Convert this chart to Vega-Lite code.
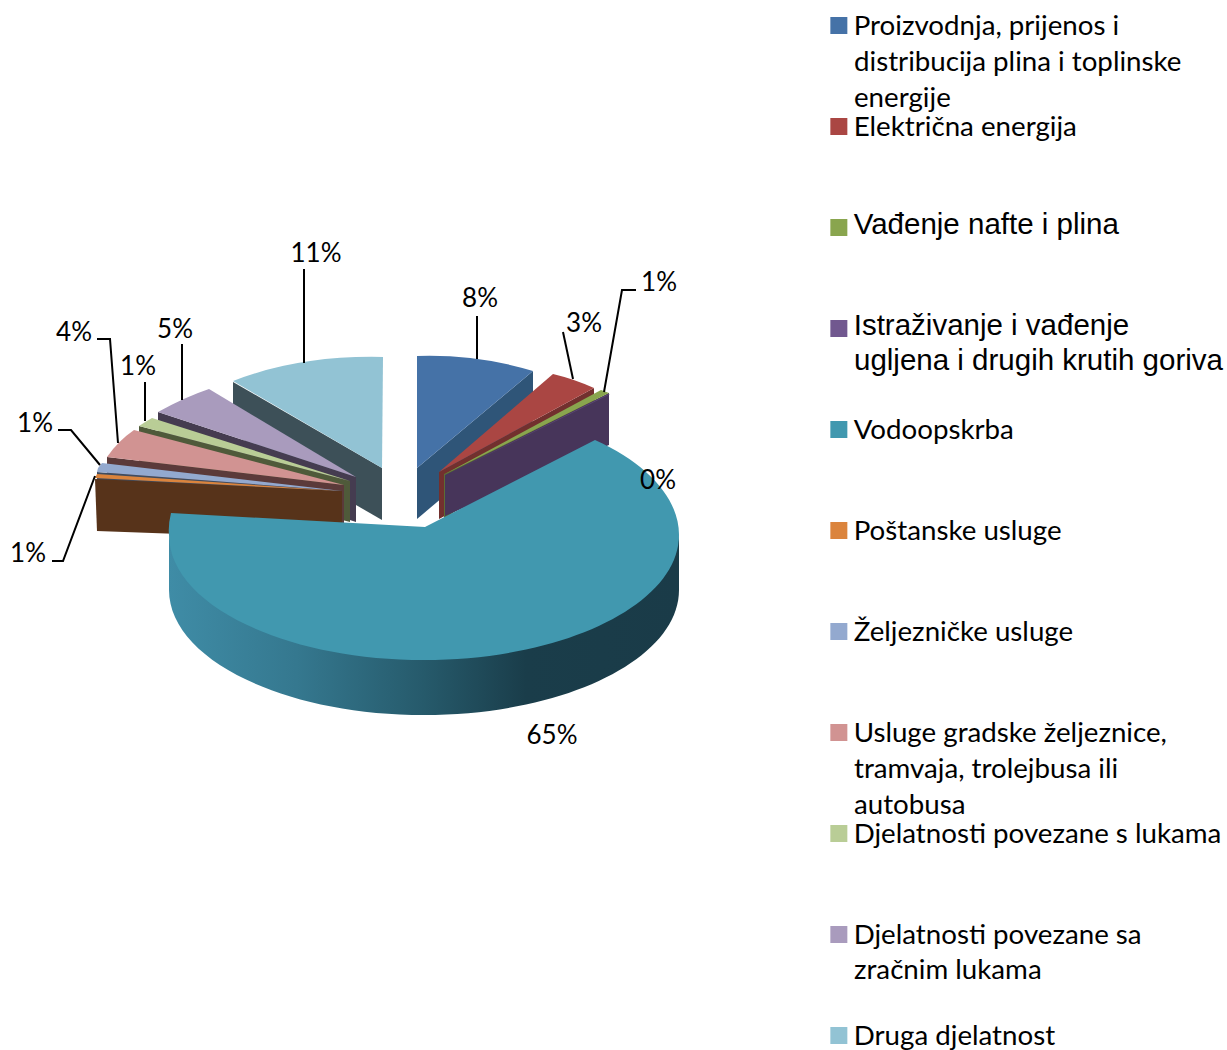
{
"$schema":"https://vega.github.io/schema/vega-lite/v6.json",
"description":"Tilted exploded pie. Shares and names are read from the reference; Vega-Lite has no elliptical arc, so slice, side-face and leader outlines are hand-traced SVG paths held in shape-scale ranges, not computed from the share values.",
"width":1226,"height":1050,"padding":0,"autosize":{"type":"none"},"background":"white",
"config":{"view":{"stroke":null}},
"data":{"values":[
{"name":"Druga djelatnost","share":0.11,"slice":11},
{"name":"Djelatnosti povezane sa zračnim lukama","share":0.05,"slice":10},
{"name":"Djelatnosti povezane s lukama","share":0.01,"slice":9},
{"name":"Usluge gradske željeznice, tramvaja, trolejbusa ili autobusa","share":0.04,"slice":8},
{"name":"Željezničke usluge","share":0.01,"slice":7},
{"name":"Poštanske usluge","share":0.01,"slice":6},
{"name":"Proizvodnja, prijenos i distribucija plina i toplinske energije","share":0.08,"slice":1},
{"name":"Električna energija","share":0.03,"slice":2},
{"name":"Vađenje nafte i plina","share":0.01,"slice":3},
{"name":"Istraživanje i vađenje ugljena i drugih krutih goriva","share":0.0,"slice":4},
{"name":"Vodoopskrba","share":0.65,"slice":5}
]},
"resolve":{"scale":{"shape":"independent","color":"independent","x":"independent","y":"independent"}},
"layer":[
{"transform":[{"filter":"datum.slice != 5"}],
 "mark":{"type":"point","filled":true,"opacity":1,"size":4},
 "encoding":{
 "shape":{"field":"slice","type":"nominal","legend":null,"scale":{"domain":[1,2,3,4,6,7,8,9,10,11],
 "range":["M-196,-57L-80,-154L-80,-104L-196,-6Z","M-174,-53L-19,-137L-19,-90L-174,-6Z","M-169,-51L-4,-132L-4,-120L-169,-6Z","M-168,-50L-4,-132L-4,-80L-168,-9Z","M-518,-46L-271,-34L-271,15L-516,6Z","M-516,-53L-271,-34L-271,10L-516,-9Z","M-506,-68L-269,-40L-269,8L-506,-20Z","M-474,-99L-263,-44L-263,-3L-474,-58Z","M-455,-113L-257,-48L-257,-3L-455,-68Z","M-380,-143L-231,-57L-231,-5L-380,-91Z"]}},
 "color":{"field":"slice","type":"nominal","legend":null,"scale":{"domain":[1,2,3,4,6,7,8,9,10,11],
 "range":["#2f5578","#72302e","#5c6e34","#47355a","#57331a","#3f4c5f","#5b3a3a","#4f5a3a","#453c50","#3d5058"]}}
 }},
{"transform":[{"filter":"datum.slice == 5"}],
 "mark":{"type":"point","filled":true,"opacity":1,"size":4,"fill":{"gradient":"linear","x1":0,"y1":0,"x2":1,"y2":0,"stops":[{"offset":0,"color":"#3f8ca6"},{"offset":0.25,"color":"#35788f"},{"offset":0.5,"color":"#265a6b"},{"offset":0.7,"color":"#1a3d4a"},{"offset":1,"color":"#1a3b48"}]}},
 "encoding":{"shape":{"field":"slice","type":"nominal","legend":null,"scale":{"domain":[5],"range":["M66,5A255,125,0,0,1,-444,5L-444,65A255,125,0,0,0,66,65Z"]}}}},
{"mark":{"type":"point","filled":true,"opacity":1,"size":4},
 "encoding":{
 "shape":{"field":"slice","type":"nominal","legend":null,"scale":{"domain":[1,2,3,4,5,6,7,8,9,10,11],
 "range":["M-196,-169Q-136,-171,-80,-154L-196,-57Z","M-174,-53L-60,-151Q-39,-146,-19,-137Z","M-168,-51L-12,-135L-4,-132Z","M-168,-49L-4,-131L-3,-131Z","M-188,2L-18,-85A255,128,0,0,1,66,10A255,125,0,0,1,-444,10Q-445,0,-442,-12Z","M-516,-51L-518,-47L-272,-34Z","M-511,-62L-515,-57L-516,-53L-271,-34Z","M-506,-68Q-495,-84,-479,-95L-269,-40Z","M-474,-99Q-468,-103,-461,-107L-263,-44Z","M-455,-113Q-428,-128,-404,-136L-257,-48Z","M-230,-168Q-313,-170,-380,-144L-231,-57Z"]}},
 "color":{"field":"name","type":"nominal","title":null,"scale":{"domain":["Proizvodnja, prijenos i distribucija plina i toplinske energije","Električna energija","Vađenje nafte i plina","Istraživanje i vađenje ugljena i drugih krutih goriva","Vodoopskrba","Poštanske usluge","Željezničke usluge","Usluge gradske željeznice, tramvaja, trolejbusa ili autobusa","Djelatnosti povezane s lukama","Djelatnosti povezane sa zračnim lukama","Druga djelatnost"],
 "range":["#4572a7","#aa4643","#89a54e","#71588f","#4198af","#db843d","#93a9cf","#d19392","#b9cd96","#a99bbd","#92c3d4"]},
 "legend":{"orient":"none","legendX":825,"legendY":-25,"symbolType":"square","symbolSize":289,"symbolStrokeWidth":0,"symbolOpacity":1,"clipHeight":101,"rowPadding":0,"columns":1,"labelLimit":400,"labelFont":"Lato","labelFontSize":27.7,"labelColor":"#000","labelOffset":1,"labelBaseline":"alphabetic",
 "labelExpr":"datum.label=='Proizvodnja, prijenos i distribucija plina i toplinske energije'?'Proizvodnja, prijenos i':datum.label=='Istraživanje i vađenje ugljena i drugih krutih goriva'?'Istraživanje i vađenje':datum.label=='Usluge gradske željeznice, tramvaja, trolejbusa ili autobusa'?'Usluge gradske željeznice,':datum.label=='Djelatnosti povezane sa zračnim lukama'?'Djelatnosti povezane sa':datum.label",
 "encoding":{"labels":{
 "dy":{"value":{"expr":"datum.value=='Vađenje nafte i plina'||datum.value=='Istraživanje i vađenje ugljena i drugih krutih goriva'?6:9"}},
 "font":{"value":{"expr":"datum.value=='Vađenje nafte i plina'||datum.value=='Istraživanje i vađenje ugljena i drugih krutih goriva'?'Liberation Sans':'Lato'"}},
 "fontSize":{"value":{"expr":"datum.value=='Vađenje nafte i plina'||datum.value=='Istraživanje i vađenje ugljena i drugih krutih goriva'?29.5:27.7"}}}}}}
 }},
{"transform":[{"filter":"datum.slice != 4 && datum.slice != 5"}],
 "mark":{"type":"point","filled":false,"opacity":1,"size":4,"stroke":"#000","strokeWidth":2},
 "encoding":{"shape":{"field":"slice","type":"nominal","legend":null,"scale":{"domain":[1,2,3,6,7,8,9,10,11],
 "range":["M-136,-209L-136,-166","M-50,-193L-40,-146","M23,-235L9,-235L-9,-133","M-561,36L-550,36L-518,-49","M-555,-95L-542,-95L-513,-60","M-516,-186L-503,-186L-495,-82","M-468,-143L-468,-104","M-431,-181L-431,-125","M-309,-256L-309,-162"]}}}},
{"mark":{"type":"text","font":"Lato","fontSize":26,"color":"#000","align":"center","baseline":"middle"},
 "encoding":{
 "x":{"field":"slice","type":"quantitative","axis":null,"scale":{"domain":[1,2,3,4,5,6,7,8,9,10,11],"range":[480,584,659,658,552,28,35,74,138,175,316],"zero":false,"nice":false}},
 "y":{"field":"slice","type":"quantitative","axis":null,"scale":{"domain":[1,2,3,4,5,6,7,8,9,10,11],"range":[299,324,283,481,736,554,424,333,367,330,254],"zero":false,"nice":false}},
 "text":{"field":"share","type":"quantitative","format":".0%"}
 }},
{"data":{"values":[{"slice":1,"rest":"distribucija plina i toplinske\nenergije"},{"slice":8,"rest":"tramvaja, trolejbusa ili\nautobusa"},{"slice":10,"rest":"zračnim lukama"}]},
 "mark":{"type":"text","font":"Lato","fontSize":27.7,"color":"#000","align":"left","baseline":"alphabetic","lineBreak":"\n","lineHeight":36},
 "encoding":{
 "x":{"field":"slice","type":"quantitative","axis":null,"scale":{"domain":[1,8,10],"range":[854,854,854],"zero":false,"nice":false}},
 "y":{"field":"slice","type":"quantitative","axis":null,"scale":{"domain":[1,8,10],"range":[71,778,979],"zero":false,"nice":false}},
 "text":{"field":"rest","type":"nominal"}
 }},
{"data":{"values":[{"slice":4,"rest":"ugljena i drugih krutih goriva"}]},
 "mark":{"type":"text","font":"Liberation Sans","fontSize":29.5,"color":"#000","align":"left","baseline":"alphabetic"},
 "encoding":{
 "x":{"field":"slice","type":"quantitative","axis":null,"scale":{"domain":[3,5],"range":[854,854],"zero":false,"nice":false}},
 "y":{"field":"slice","type":"quantitative","axis":null,"scale":{"domain":[3,5],"range":[370,370],"zero":false,"nice":false}},
 "text":{"field":"rest","type":"nominal"}
 }}
]
}
